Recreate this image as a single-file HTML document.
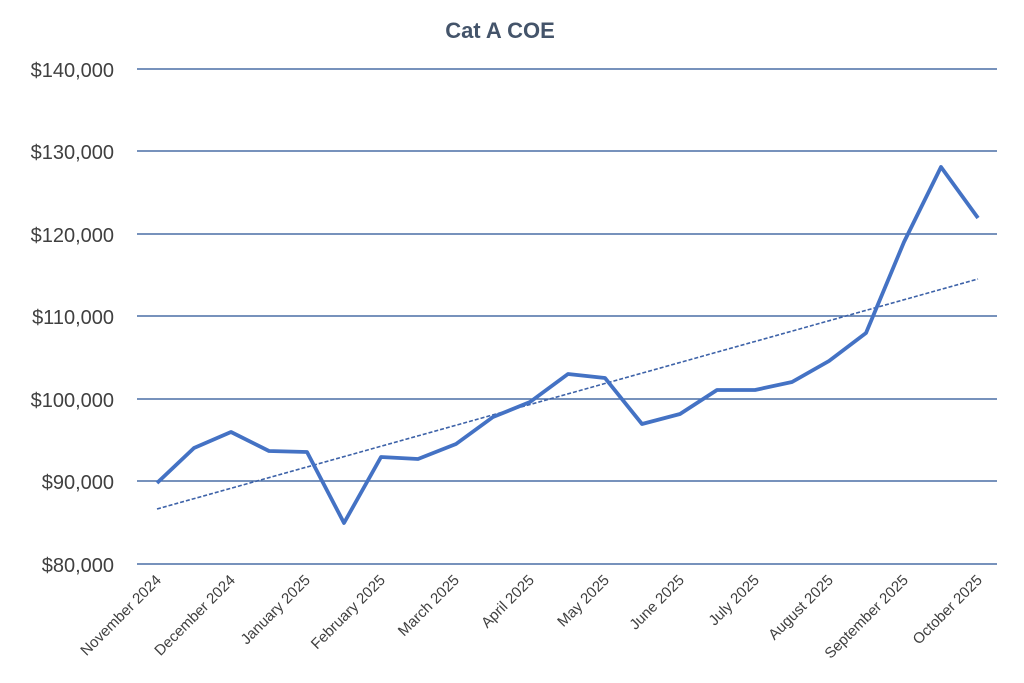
<!DOCTYPE html>
<html><head><meta charset="utf-8"><style>
html,body{margin:0;padding:0;background:#fff;}
svg{display:block;}
text{font-family:"Liberation Sans",sans-serif;fill:#404040;}
</style></head><body>
<svg width="1024" height="683" viewBox="0 0 1024 683">
<text x="500" y="38" text-anchor="middle" font-size="22" font-weight="bold" style="fill:#44546a">Cat A COE</text>
<g stroke="#4a6fa5" stroke-width="1.4">
<line x1="137" y1="69" x2="997" y2="69"/>
<line x1="137" y1="151" x2="997" y2="151"/>
<line x1="137" y1="234" x2="997" y2="234"/>
<line x1="137" y1="316" x2="997" y2="316"/>
<line x1="137" y1="399" x2="997" y2="399"/>
<line x1="137" y1="481" x2="997" y2="481"/>
<line x1="137" y1="564" x2="997" y2="564"/>
</g>
<g font-size="20" text-anchor="end">
<text x="114" y="77">$140,000</text>
<text x="114" y="159">$130,000</text>
<text x="114" y="242">$120,000</text>
<text x="114" y="324">$110,000</text>
<text x="114" y="407">$100,000</text>
<text x="114" y="489">$90,000</text>
<text x="114" y="572">$80,000</text>
</g>
<line x1="157" y1="509" x2="978" y2="279" stroke="#3d62a8" stroke-width="1.6" stroke-dasharray="4,2"/>
<polyline fill="none" stroke="#4472c4" stroke-width="3.8" stroke-linejoin="round" points="157,483 194,448 231,432 269,451 307,452 344,523 381,457 418,459 456,444 493,417 530,402 568,374 605,378 642,424 680,414 717,390 755,390 792,382 829,361 866,333 904,242 941,167 978,218"/>
<g font-size="15" text-anchor="end">
<text transform="translate(162,581) rotate(-45)">November 2024</text>
<text transform="translate(236,581) rotate(-45)">December 2024</text>
<text transform="translate(311,581) rotate(-45)">January 2025</text>
<text transform="translate(386,581) rotate(-45)">February 2025</text>
<text transform="translate(460,581) rotate(-45)">March 2025</text>
<text transform="translate(535,581) rotate(-45)">April 2025</text>
<text transform="translate(610,581) rotate(-45)">May 2025</text>
<text transform="translate(685,581) rotate(-45)">June 2025</text>
<text transform="translate(760,581) rotate(-45)">July 2025</text>
<text transform="translate(834,581) rotate(-45)">August 2025</text>
<text transform="translate(909,581) rotate(-45)">September 2025</text>
<text transform="translate(983,581) rotate(-45)">October 2025</text>
</g>
</svg>
</body></html>
